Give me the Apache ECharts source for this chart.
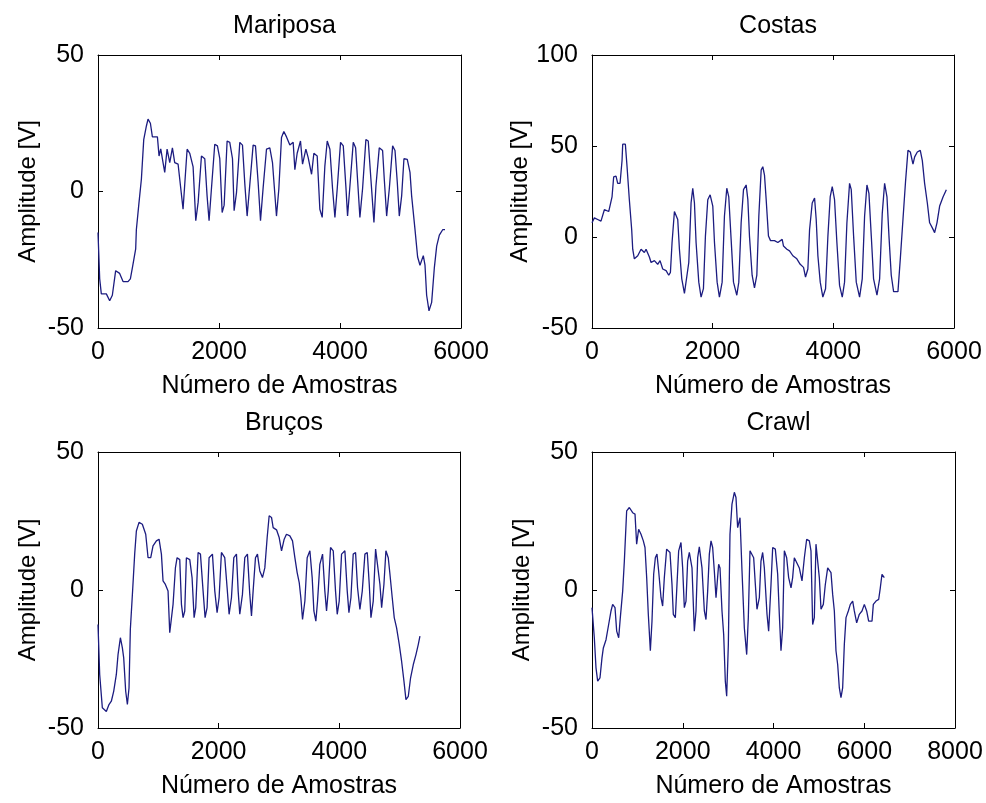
<!DOCTYPE html>
<html>
<head>
<meta charset="utf-8">
<title>Amplitude por estilo de nado</title>
<script src="https://cdn.jsdelivr.net/npm/echarts@6/dist/echarts.min.js"></script>
<style>
  html, body { margin: 0; padding: 0; background: #fff; }
  #chart { width: 986px; height: 803px; }
</style>
</head>
<body>
<div id="chart"></div>
<script>
// Panel titles and axis texts
const panelTitles = ['Mariposa', 'Costas', 'Bruços', 'Crawl'];
const xAxisName = 'Número de Amostras';
const yAxisName = 'Amplitude [V]';

// Axis ranges per panel
const xMaxima = [6000, 6000, 6000, 8000];
const yMaxima = [50, 100, 50, 50];
const yMinimum = -50;
const xTickStep = 2000;
const yTickStep = 50;

// Mariposa
const mariposaSamples = [0,28,55,138,193,237,292,358,414,496,535,568,623,634,678,717,756,800,827,866,899,938,982,1009,1037,1075,1103,1142,1186,1230,1268,1324,1351,1406,1434,1473,1517,1572,1616,1655,1710,1765,1803,1836,1875,1930,1974,2013,2052,2085,2134,2178,2223,2250,2289,2344,2388,2427,2465,2498,2564,2603,2647,2686,2730,2785,2840,2884,2950,2989,3033,3072,3116,3171,3226,3254,3292,3347,3381,3436,3474,3530,3568,3623,3667,3706,3750,3789,3833,3877,3916,3954,4009,4054,4098,4125,4164,4219,4258,4291,4329,4373,4428,4467,4511,4561,4594,4649,4704,4732,4771,4815,4870,4909,4947,4980,5019,5057,5112,5157,5184,5239,5283,5322,5377,5405,5432,5471,5515,5559,5598,5642,5697,5736];
const mariposaAmplitude = [-15,-32,-37.5,-37.5,-40,-38,-29,-30,-33,-33,-32,-28,-21,-14,-4,4.5,19,24,26.5,25,20,20,20,13,15.6,10.6,7,15.5,10.6,16,10.6,10,9.4,-6.5,-6.5,15.5,14,9,-10.7,-4,13,12,-1.6,-10.7,1,17.3,16.7,12,-7.7,-5,18.5,18,12,-7,-0.4,18,17,2.7,-9,-0.4,17,16.7,3.3,-10.7,1.5,15.5,16,10.6,-9,0.9,19.8,22,20,17,18,8,14,18.5,10,15.5,12.4,6.3,14,13,-6.5,-9.5,9.4,18.5,15.5,1,-9.5,1,18,16.7,1.5,-9,2,18,16,4,-9.5,1,19,18.5,4.5,-11.3,2,16,15,4.5,-9,1,16.7,15,3.3,-9,-1.6,12,11.8,7,-1.6,-13.8,-24,-27,-23.5,-27,-38,-43.7,-40.6,-28,-20,-16,-14,-14];

// Costas
const costasSamples = [0,39,94,149,205,277,332,359,398,426,465,498,509,553,581,619,658,675,702,758,813,868,896,951,979,1034,1089,1128,1172,1228,1272,1300,1327,1366,1394,1421,1449,1488,1532,1559,1604,1642,1670,1698,1725,1770,1808,1847,1880,1919,1958,2002,2030,2074,2112,2157,2195,2234,2267,2306,2345,2400,2433,2472,2511,2555,2583,2610,2654,2693,2732,2765,2804,2831,2859,2887,2925,2959,3025,3080,3152,3174,3230,3274,3329,3395,3451,3506,3539,3578,3606,3650,3689,3716,3744,3783,3826,3871,3910,3948,3982,4020,4059,4103,4148,4186,4225,4269,4297,4336,4380,4435,4479,4518,4557,4590,4629,4667,4723,4767,4811,4850,4889,4922,4960,4999,5071,5110,5154,5198,5237,5276,5320,5348,5392,5441,5475,5513,5558,5596,5641,5679,5718,5762,5818,5873];
const costasAmplitude = [7.8,10.5,9.6,8.7,15,14,22,33,33.5,29.5,29.5,42,51,51,38.6,20.5,4,-6.7,-12,-10.3,-6.7,-8.5,-6.7,-11,-14,-13,-15,-13,-17.6,-18.5,-21,-19.4,-3,14,15,9.6,-6.7,-23,-31,-31,-14,18.7,26.8,18.7,-3,-24.8,-33,-28.4,0.5,20.5,23.2,17,-3,-24.8,-33,-24.8,11.4,26.8,22,-1.3,-24.8,-32,-24.8,7.8,26,28.6,20.5,0.5,-21,-28,-21,11.4,36.8,38.6,34,20.5,0.5,-2,-2,-3,-1.3,-5,-6.7,-7.6,-10.3,-12,-15,-16.7,-22,-17.6,4,18.7,21.4,9.6,-10.3,-24.8,-33,-28.4,0.5,22,27.7,20.5,-3,-26.6,-33,-24.8,7.8,29.5,26,0.5,-24.8,-33,-23,11.4,28.6,24,0.5,-23,-32,-23,13,29.5,22,0.5,-21,-30,-30,-12,9.6,31,47.6,46.7,40,44,46.7,47.6,42,29.5,18.7,7.8,5,2.4,7.8,17,22,26];

// Bruços
const brucosSamples = [0,28,72,138,182,221,260,304,332,371,404,426,459,487,514,536,570,608,636,680,735,791,830,874,912,968,1012,1051,1078,1117,1161,1189,1217,1244,1283,1311,1355,1383,1410,1438,1465,1521,1559,1593,1620,1659,1698,1742,1775,1808,1841,1897,1936,1974,2007,2046,2101,2140,2173,2212,2251,2295,2323,2350,2394,2433,2477,2516,2544,2571,2610,2643,2682,2726,2765,2804,2837,2876,2903,2959,3003,3042,3086,3124,3180,3224,3263,3301,3335,3362,3390,3429,3467,3512,3550,3578,3611,3639,3677,3722,3760,3788,3816,3854,3899,3937,3965,3998,4037,4092,4131,4159,4192,4230,4269,4302,4341,4380,4424,4463,4496,4524,4562,4601,4634,4673,4701,4739,4772,4811,4839,4877,4910,4949,4993,5032,5071,5104,5143,5181,5226,5270,5309,5336];
const brucosAmplitude = [-12.5,-30.6,-42.7,-44,-41.5,-40.3,-36.7,-30.6,-23.4,-17.3,-21,-24.6,-36.7,-41.5,-35.5,-14.3,-1.6,13,21.4,24.5,23.8,20.2,11.7,11.7,16,17.8,18.4,13,3.3,2,-0.4,-15.5,-14.9,-5.2,8,11.7,11,-5.2,-10,-7.6,11.7,11,4.5,-10,-6.4,13.6,13,-0.4,-10,-6.4,11.7,13,-0.4,-8.2,-2.8,13.6,11.7,0.8,-8.8,-2.8,11.7,13,-0.4,-8.8,-1.6,11.7,13,-1.6,-9.4,-0.4,11.7,13,6.9,4.5,8,19,26.9,26.3,22.6,21.8,19,14.2,18.4,20.2,19.6,17.8,11.7,6.3,2.7,-2.8,-10.7,-4,11.7,14.2,4.5,-7.6,-11.3,-4,9.3,13,-0.4,-7.6,-0.4,15.4,14.2,-0.4,-8.8,-4,13,14.2,-0.4,-8.2,-2.8,13,13.6,0.8,-7,-0.4,13,13.6,2,-10,-4,14.8,14.8,2,-6.4,2,14.2,11.7,5.7,-2.8,-10,-13.7,-19.7,-25.8,-33,-39.7,-38.5,-31.8,-27,-23.4,-19.7,-16.7];

// Crawl
const crawlSamples = [0,51,88,125,176,220,250,309,367,419,455,507,544,588,624,676,713,764,823,896,948,984,1028,1080,1131,1168,1205,1241,1286,1322,1359,1396,1432,1469,1521,1557,1594,1645,1719,1763,1792,1837,1873,1910,1961,1998,2035,2072,2108,2145,2204,2255,2292,2329,2365,2424,2476,2512,2549,2586,2623,2659,2696,2733,2791,2821,2865,2902,2938,2968,3005,3041,3085,3137,3173,3210,3262,3306,3357,3409,3445,3482,3526,3563,3600,3636,3688,3724,3761,3798,3857,3893,3945,3982,4040,4092,4128,4165,4202,4239,4290,4334,4386,4422,4459,4496,4569,4628,4680,4731,4790,4826,4863,4900,4936,4973,5010,5047,5098,5142,5194,5230,5267,5304,5341,5377,5414,5451,5487,5524,5561,5598,5649,5693,5745,5781,5833,5891,5950,6002,6053,6097,6171,6200,6259,6318,6354,6391,6442];
const crawlAmplitude = [-6.4,-17.3,-28.2,-33,-31.8,-24.6,-21,-18,-12.5,-7.6,-5.2,-6.4,-14.9,-17.3,-10,-0.4,10.5,28.7,29.9,28,27.5,16.6,22,20.2,17.8,15.4,4.5,-8.8,-22,-11.3,5.7,11.7,13,6.9,-2.8,-5.8,4.5,14.8,13.6,2,-8.8,-10,2,14.2,17.2,8,-6.4,-4,10.5,13.6,8,-14.9,-7.6,11.7,15.6,8,-7.6,-10.7,-0.4,13,17.8,15.4,6.9,-2.8,9.3,8,-7.6,-16.1,-33,-38.5,-19.7,20.2,31.1,35.4,33.5,22.6,26.2,6.9,-13.7,-23.4,-10,14.2,14.2,11.7,2,-7,-2.8,10.5,13.6,8,-8.8,-14.9,2,15.4,14.8,5.7,-8.8,-22,-13.7,14.2,11.7,4.5,0.8,4.5,11.7,11.7,8,3.3,11.7,18.4,17.8,14.2,-12.5,-10,16.6,16,4.5,-7,-5.2,2,8,7.5,6.3,-1.6,-7.6,-22,-27,-35.5,-39,-35.5,-19.7,-10,-7.6,-5.2,-4,-7.6,-11.9,-8.8,-7.6,-5.2,-7.6,-11.3,-11.3,-5.2,-4,-3.4,0.8,5.7,4.5];

const panelSamples = [mariposaSamples, costasSamples, brucosSamples, crawlSamples];
const panelAmplitudes = [mariposaAmplitude, costasAmplitude, brucosAmplitude, crawlAmplitude];

// Plot rectangles (left, top, width, height) for the 2x2 layout
const panelBoxes = [
  { left: 98,  top: 55,  width: 363, height: 273 },
  { left: 592, top: 55,  width: 362, height: 273 },
  { left: 98,  top: 452, width: 362, height: 276 },
  { left: 592, top: 452, width: 363, height: 276 }
];

const FONT = "'Liberation Sans', Arial, Helvetica, sans-serif";
const FONT_SIZE = 25;
const LINE_COLOR = '#1c1c80';
const textStyle = { color: '#000', fontFamily: FONT, fontSize: FONT_SIZE };
const frameLine = { show: true, onZero: false, lineStyle: { color: '#000', width: 1 } };
const innerTicks = { show: true, inside: true, length: 5, lineStyle: { color: '#000', width: 1 } };
// plain integers on the ticks, no thousands separator
const plainNumber = v => String(v);

const grids = [], xAxes = [], yAxes = [], series = [], titles = [];

panelTitles.forEach((name, i) => {
  const box = panelBoxes[i];
  grids.push(Object.assign({ containLabel: false }, box));

  titles.push({
    text: name,
    left: box.left + box.width / 2,
    top: box.top - 46,
    textAlign: 'center',
    textStyle: Object.assign({ fontWeight: 'normal' }, textStyle)
  });

  const xBase = {
    gridIndex: i, type: 'value', min: 0, max: xMaxima[i], interval: xTickStep,
    axisLine: frameLine, axisTick: innerTicks, splitLine: { show: false }
  };
  xAxes.push(Object.assign({}, xBase, {
    position: 'bottom',
    axisLabel: Object.assign({ margin: 12, formatter: plainNumber }, textStyle),
    name: xAxisName, nameLocation: 'middle', nameGap: 46,
    nameTextStyle: textStyle
  }));
  xAxes.push(Object.assign({}, xBase, { position: 'top', axisLabel: { show: false } }));

  const yBase = {
    gridIndex: i, type: 'value', min: yMinimum, max: yMaxima[i], interval: yTickStep,
    axisLine: frameLine, axisTick: innerTicks, splitLine: { show: false }
  };
  yAxes.push(Object.assign({}, yBase, {
    position: 'left',
    axisLabel: Object.assign({ margin: 14, formatter: plainNumber }, textStyle),
    name: yAxisName, nameLocation: 'middle', nameGap: 58, nameRotate: 90,
    nameTextStyle: Object.assign({}, textStyle, { fontSize: 24 })
  }));
  yAxes.push(Object.assign({}, yBase, { position: 'right', axisLabel: { show: false } }));

  const samples = panelSamples[i];
  const amps = panelAmplitudes[i];
  series.push({
    type: 'line',
    xAxisIndex: 2 * i,
    yAxisIndex: 2 * i,
    data: samples.map((s, k) => [s, amps[k]]),
    showSymbol: false,
    symbol: 'none',
    lineStyle: { color: LINE_COLOR, width: 1.3 },
    silent: true,
    animation: false
  });
});

const chart = echarts.init(document.getElementById('chart'), null, { renderer: 'canvas' });
chart.setOption({
  backgroundColor: '#fff',
  animation: false,
  title: titles,
  grid: grids,
  xAxis: xAxes,
  yAxis: yAxes,
  series: series
});
</script>
</body>
</html>
